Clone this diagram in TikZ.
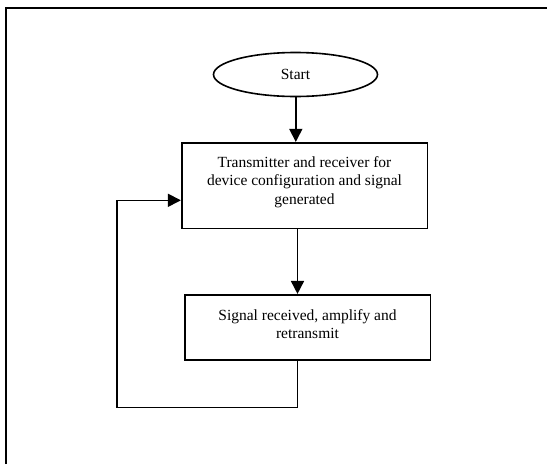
\documentclass[tikz,border=0pt]{standalone}
\usepackage{fontspec}
\setmainfont{Liberation Serif}
\usetikzlibrary{arrows.meta,shapes.geometric}
\begin{document}
\begin{tikzpicture}[x=1pt,y=-1pt,
  boxnode/.style={draw,line width=1.6pt,rectangle,inner sep=0pt},
  txtnode/.style={align=center,font=\fontsize{15.5}{18.4}\selectfont,inner sep=0pt},
  startnode/.style={draw,line width=1.6pt,ellipse,inner sep=0pt,font=\fontsize{15.5}{18.4}\selectfont},
  conn/.style={line width=1.6pt,-{Triangle[length=13pt,width=13pt]}}]
\useasboundingbox (0,0) rectangle (547,464);
\draw[line width=2pt] (6.3,464) -- (6.3,7.5) -- (547,7.5);
\node[startnode,minimum width=164pt,minimum height=44pt] (start) at (295.5,74.5) {Start};
\node[boxnode,minimum width=245.6pt,minimum height=85.6pt] (tx) at (304.5,185.5) {};
\node[txtnode] (txt1) at (304.5,182) {Transmitter and receiver for\\device configuration and signal\\generated};
\node[boxnode,minimum width=245.6pt,minimum height=65.3pt] (rx) at (307.5,327.4) {};
\node[txtnode] (txt2) at (307.5,324) {Signal received, amplify and\\retransmit};
\coordinate (c1) at (297.5,407.3);
\coordinate (c2) at (117.2,407.3);
\coordinate (c3) at (117.2,200.3);
\draw[conn] (start.south -| 295.8,0) -- (tx.north -| 295.8,0);
\draw[conn] (tx.south -| 297.5,0) -- (rx.north -| 297.5,0);
\draw[conn] (rx.south -| 297.5,0) -- (c1) -- (c2) -- (c3) -- (c3 -| tx.west);
\end{tikzpicture}
\end{document}
